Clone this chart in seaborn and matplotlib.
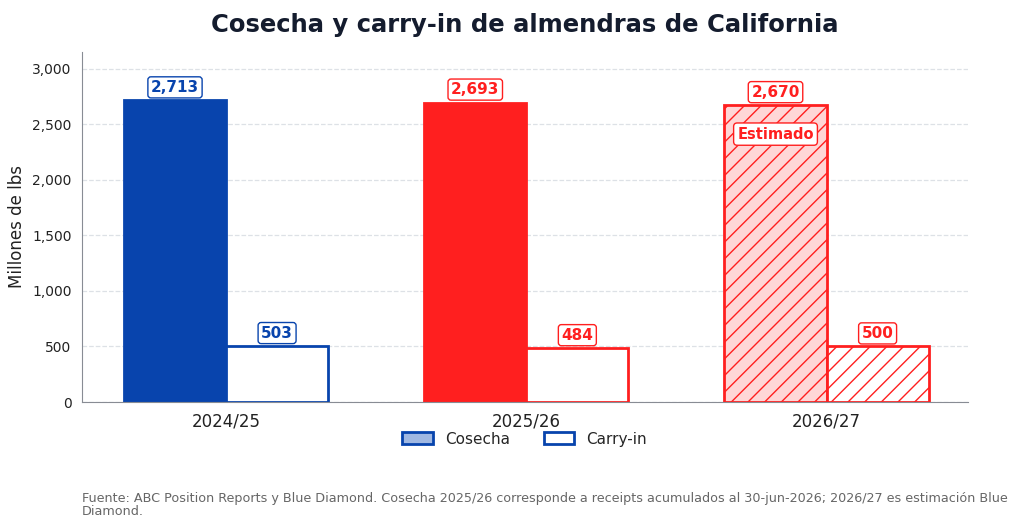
# Basics
import numpy as np
import pandas as pd

# Visualization
import matplotlib
matplotlib.use('Agg')
import matplotlib.pyplot as plt
import matplotlib.ticker as mticker
from matplotlib.patches import Patch
import seaborn as sns

# Data
campanas = ['2024/25', '2025/26', '2026/27']
cosecha = [2713, 2693, 2670]
carry_in = [503, 484, 500]
series = ['Cosecha', 'Carry-in']

# Colors
blue = '#0844ad'
red = '#ff1f1f'
pink = '#ffd6d6'
bar_colors = [blue, red, red]

df = pd.DataFrame({
    'Campaña': campanas * 2,
    'Serie': [series[0]] * 3 + [series[1]] * 3,
    'Valor': cosecha + carry_in,
})

sns.set_style('white')
plt.rcParams['font.family'] = ['DejaVu Sans']
plt.rcParams['hatch.linewidth'] = 1.0

fig, ax = plt.subplots(figsize=(10.24, 5.29), dpi=100)
fig.subplots_adjust(left=0.08, right=0.945, top=0.902, bottom=0.24)

sns.barplot(data=df, x='Campaña', y='Valor', hue='Serie', order=campanas,
            hue_order=series, width=0.68, ax=ax, legend=False, errorbar=None)

# Style each bar
for s, container in enumerate(ax.containers):
    for i, bar in enumerate(container.patches):
        color = bar_colors[i]
        bar.set_edgecolor(color)
        bar.set_linewidth(2)
        if s == 0:
            bar.set_facecolor(pink if i == 2 else color)
        else:
            bar.set_facecolor('white')
        if i == 2:
            bar.set_hatch('//')

        # Value labels
        ax.annotate(f'{int(bar.get_height()):,}',
                    (bar.get_x() + bar.get_width() / 2, bar.get_height()),
                    xytext=(0, 4), textcoords='offset points',
                    ha='center', va='bottom', fontsize=11, fontweight='bold',
                    color=color,
                    bbox=dict(boxstyle='round,pad=0.2', fc='white', ec=color, lw=1))

# Estimated tag
est_bar = ax.containers[0].patches[2]
ax.text(est_bar.get_x() + est_bar.get_width() / 2, 2410, 'Estimado',
        ha='center', va='center', fontsize=10.5, fontweight='bold', color=red,
        bbox=dict(boxstyle='round,pad=0.25', fc='white', ec=red, lw=1))

# Formatting
ax.set_xlim(-0.48, 2.47)
ax.set_ylim(0, 3150)
ax.yaxis.set_major_formatter(mticker.FuncFormatter(lambda v, p: f'{int(v):,}'))
ax.set_yticks(np.arange(0, 3001, 500))
ax.grid(axis='y', linestyle='--', color='#dde1e6', linewidth=0.9)
ax.set_axisbelow(True)
for side in ['top', 'right']:
    ax.spines[side].set_visible(False)
for side in ['left', 'bottom']:
    ax.spines[side].set_color('#888c94')
ax.tick_params(axis='y', labelsize=10, colors='#222222', length=4, color='#888c94')
ax.tick_params(axis='x', labelsize=12, colors='#222222', length=4, color='#888c94')
ax.set_xlabel('')
ax.set_ylabel('Millones de lbs', fontsize=12, color='#222222')
ax.set_title('Cosecha y carry-in de almendras de California', fontsize=17.5,
             fontweight='bold', color='#141c2e', pad=14)

handles = [Patch(facecolor='#a0b8e2', edgecolor=blue, lw=2, label='Cosecha'),
           Patch(facecolor='white', edgecolor=blue, lw=2, label='Carry-in')]
ax.legend(handles=handles, loc='upper center', bbox_to_anchor=(0.5, -0.045),
          ncol=2, frameon=False, fontsize=11, columnspacing=2.2,
          handlelength=2.0, handleheight=0.85)

fig.text(0.08, 0.02,
         'Fuente: ABC Position Reports y Blue Diamond. Cosecha 2025/26 corresponde a receipts acumulados al 30-jun-2026; 2026/27 es estimación Blue\nDiamond.',
         fontsize=9.2, color='#666666', ha='left', va='bottom', linespacing=1.05)

fig.savefig('out.png', dpi=100)
